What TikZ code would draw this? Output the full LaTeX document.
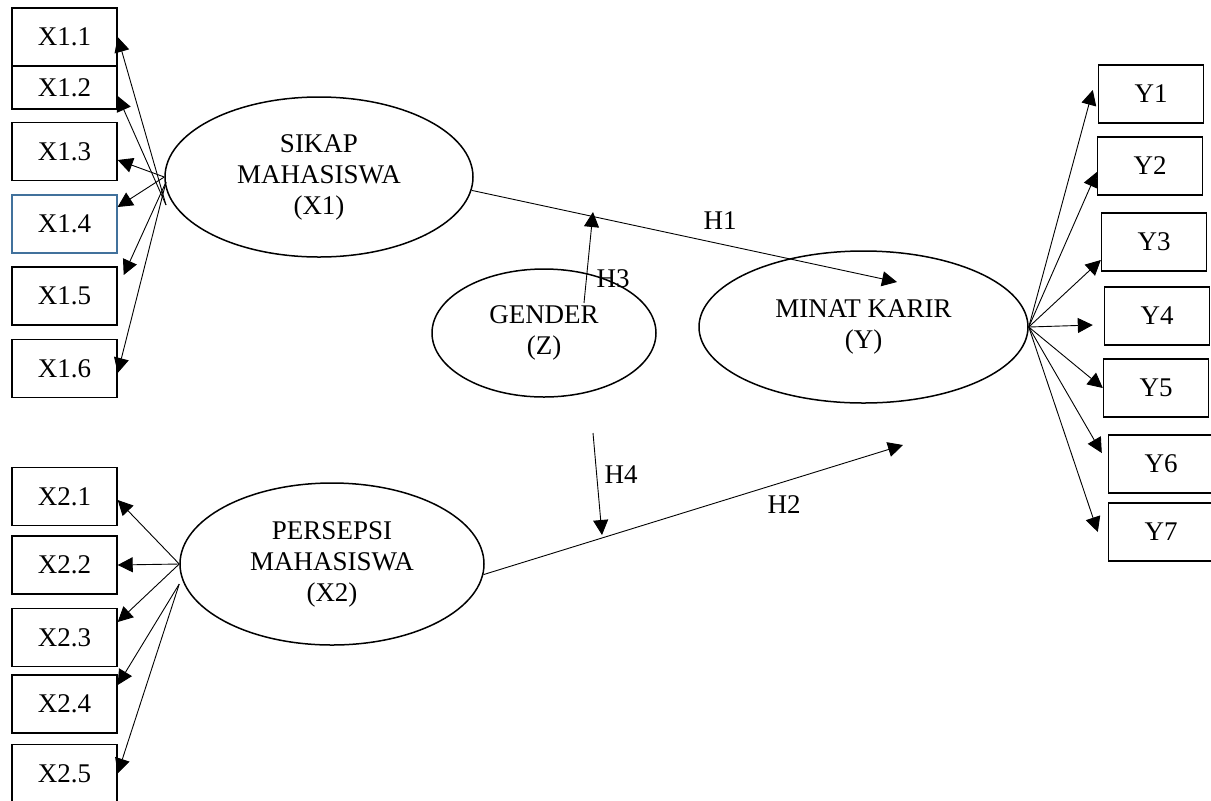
\documentclass[tikz,border=0pt]{standalone}
\usepackage{fontspec}
\setmainfont{Liberation Serif}
\usetikzlibrary{shapes,arrows.meta}
\tikzstyle{indicator} = [draw, line width=0.7pt, rectangle, minimum width=52.5pt,
    minimum height=29pt, inner sep=0pt]
\tikzstyle{latent} = [draw, line width=0.75pt, ellipse, inner sep=0pt, align=center]
\tikzstyle{link} = [->, line width=0.45pt]
\tikzstyle{hlabel} = [inner sep=0pt]
\definecolor{boxblue}{HTML}{41719C}

\begin{document}
\begin{tikzpicture}[x=0.5pt, y=-0.5pt, >={Triangle[length=7.5pt,width=7.5pt]},
    font=\fontsize{13.5}{15.5}\selectfont]
          \useasboundingbox (0,0) rectangle (1211,800);

          % Latent variables
          \node [latent, minimum width=154pt, minimum height=80pt] (sikap) at (319,177) {SIKAP\\MAHASISWA\\(X1)};
          \node [latent, minimum width=152pt, minimum height=81pt] (persepsi) at (332,564) {PERSEPSI\\MAHASISWA\\(X2)};
          \node [latent, minimum width=112pt, minimum height=64pt] (gender) at (544,333) {GENDER\\(Z)};
          \node [latent, minimum width=164.5pt, minimum height=76pt] (minat) at (863.5,327) {MINAT KARIR\\(Y)};

          % Indicators X1
          \node [indicator] (x11) at (64.5,37) {X1.1};
          \node [indicator, minimum height=21.5pt] (x12) at (64.5,87.5) {X1.2};
          \node [indicator] (x13) at (64.5,151.5) {X1.3};
          \node [indicator, draw=boxblue, line width=0.6pt] (x14) at (64.5,224) {X1.4};
          \node [indicator] (x15) at (64.5,296) {X1.5};
          \node [indicator] (x16) at (64.5,368.5) {X1.6};

          % Indicators X2
          \node [indicator] (x21) at (64.5,496.5) {X2.1};
          \node [indicator] (x22) at (64.5,565) {X2.2};
          \node [indicator] (x23) at (64.5,637.5) {X2.3};
          \node [indicator] (x24) at (64.5,704) {X2.4};
          \node [indicator] (x25) at (64.5,773.5) {X2.5};

          % Indicators Y
          \node [indicator] (y1) at (1151,94) {Y1};
          \node [indicator] (y2) at (1150,166) {Y2};
          \node [indicator] (y3) at (1154,242) {Y3};
          \node [indicator] (y4) at (1157,316) {Y4};
          \node [indicator] (y5) at (1156,388) {Y5};
          \node [indicator] (y6) at (1161,464) {Y6};
          \node [indicator] (y7) at (1161,532) {Y7};

          % Loose ends
          \coordinate (sx1a) at (166,205);
          \coordinate (sx1b) at (166,182);
          \coordinate (sx2) at ([yshift=-10pt]persepsi.west);
          \coordinate (h1tip) at (897,282);
          \coordinate (h2tip) at (903,445);
          \coordinate (h3start) at (584,303);
          \coordinate (h3tip) at (593,212);
          \coordinate (h4start) at (593,433);
          \coordinate (h4tip) at (602,535);

          % Loadings X1
          \draw [link] (sx1a) -- (x11.east);
          \draw [link] (sx1a) -- ([yshift=-4.25pt]x12.east);
          \draw [link] (sikap.west) -- ([yshift=-4.25pt]x13.east);
          \draw [link] (sikap.west) -- ([yshift=8.5pt]x14.east);
          \draw [link] (sx1b) -- ([xshift=3pt,yshift=10.5pt]x15.east);
          \draw [link] (sx1b) -- ([yshift=-2.25pt]x16.east);

          % Loadings X2
          \draw [link] (persepsi.west) -- ([yshift=-1.75pt]x21.east);
          \draw [link] (persepsi.west) -- (x22.east);
          \draw [link] (persepsi.west) -- ([yshift=7.75pt]x23.east);
          \draw [link] (sx2) -- ([yshift=9.5pt]x24.east);
          \draw [link] (sx2) -- (x25.east);

          % Loadings Y
          \draw [link] (minat.east) -- ([xshift=-2.5pt,yshift=2pt]y1.west);
          \draw [link] (minat.east) -- ([yshift=-3pt]y2.west);
          \draw [link] (minat.east) -- ([yshift=-9pt]y3.west);
          \draw [link] (minat.east) -- ([xshift=-5.5pt,yshift=-4.5pt]y4.west);
          \draw [link] (minat.east) -- (y5.west);
          \draw [link] (minat.east) -- ([xshift=-3pt,yshift=5.5pt]y6.west);
          \draw [link] (minat.east) -- ([xshift=-5pt]y7.west);

          % Hypotheses
          \draw [link] (sikap.-5) -- (h1tip);
          \draw [link] (persepsi.-4) -- (h2tip);
          \draw [link] (h3start) -- (h3tip);
          \draw [link] (h4start) -- (h4tip);
          \node [hlabel] (lh1) at (720,220.5) {H1};
          \node [hlabel] (lh2) at (784,505) {H2};
          \node [hlabel] (lh3) at (613,278.5) {H3};
          \node [hlabel] (lh4) at (621,475) {H4};
      \end{tikzpicture}
\end{document}
